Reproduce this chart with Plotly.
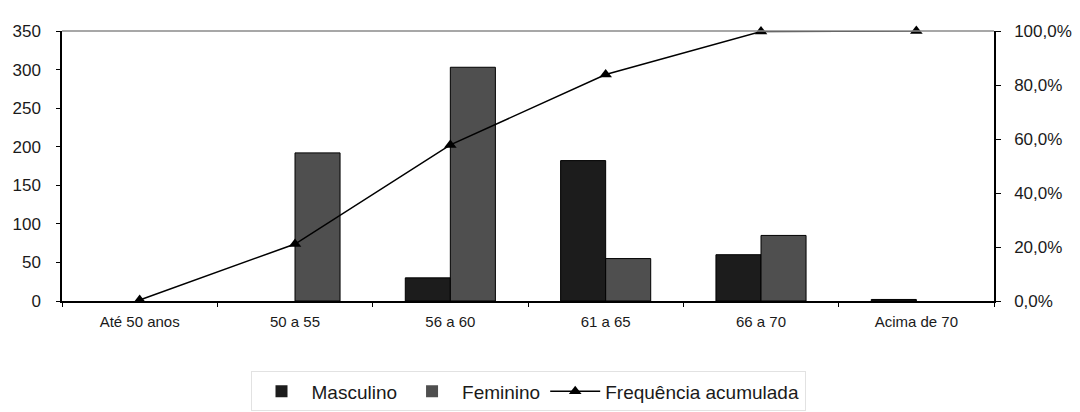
import plotly.graph_objects as go

# Faixas etárias e contagens por sexo
categorias = ["Até 50 anos", "50 a 55", "56 a 60", "61 a 65", "66 a 70", "Acima de 70"]
masculino = [0, 0, 30, 182, 60, 2]
feminino = [0, 192, 303, 55, 85, 0]
# Frequência acumulada (%)
freq_acumulada = [0.4, 21.1, 57.8, 83.9, 99.8, 100.0]

fonte = dict(family="Liberation Sans, Arial, sans-serif", color="#1a1a1a")


def contorno(valores):
    # sem contorno nas barras vazias
    return [1 if v > 0 else 0 for v in valores]


fig = go.Figure()

fig.add_trace(go.Bar(
    name="Masculino", x=categorias, y=masculino,
    marker=dict(color="#1c1c1c", line=dict(color="#000000", width=contorno(masculino))),
))
fig.add_trace(go.Bar(
    name="Feminino", x=categorias, y=feminino,
    marker=dict(color="#4f4f4f", line=dict(color="#000000", width=contorno(feminino))),
))
fig.add_trace(go.Scatter(
    name="Frequência acumulada", x=categorias, y=freq_acumulada,
    yaxis="y2", mode="lines+markers", cliponaxis=False,
    line=dict(color="#000000", width=1.5),
    marker=dict(symbol="triangle-up", size=11, color="#000000"),
))

fig.update_layout(
    width=1080, height=412,
    margin=dict(l=62, r=86, t=31, b=111, autoexpand=False),
    paper_bgcolor="white", plot_bgcolor="white",
    font=dict(size=16, **fonte),
    separators=",.",
    barmode="group", bargap=0.42, bargroupgap=0,
    showlegend=True,
    legend=dict(
        orientation="h", x=0.5, xanchor="center", y=-0.335, yanchor="middle",
        font=dict(size=19, **fonte), bgcolor="rgba(0,0,0,0)",
        bordercolor="#e2e2e2", borderwidth=1,
        itemwidth=50, traceorder="normal",
    ),
    xaxis=dict(
        type="category", showline=True, linecolor="#000000", linewidth=1.5,
        ticks="outside", ticklen=4, tickcolor="#000000", tickson="boundaries",
        ticklabelstandoff=6,
        tickfont=dict(size=15, **fonte), showgrid=False, zeroline=False,
    ),
    yaxis=dict(
        range=[0, 350], dtick=50, showline=True, linecolor="#000000", linewidth=1.5,
        ticks="outside", ticklen=4, tickcolor="#000000", ticklabelstandoff=12,
        showgrid=False, zeroline=False, tickfont=dict(size=17, **fonte),
    ),
    yaxis2=dict(
        range=[0, 100], dtick=20, overlaying="y", side="right",
        showline=True, linecolor="#000000", linewidth=1.5,
        ticks="outside", ticklen=5, tickcolor="#000000", ticklabelstandoff=10,
        tickformat=".1f", ticksuffix="%",
        showgrid=False, zeroline=False, tickfont=dict(size=17, **fonte),
    ),
    shapes=[
        dict(type="line", xref="paper", yref="paper", x0=0, x1=1, y0=1, y1=1,
             line=dict(color="#8a8a8a", width=1.5)),
    ],
)

fig.write_html("out.html")
